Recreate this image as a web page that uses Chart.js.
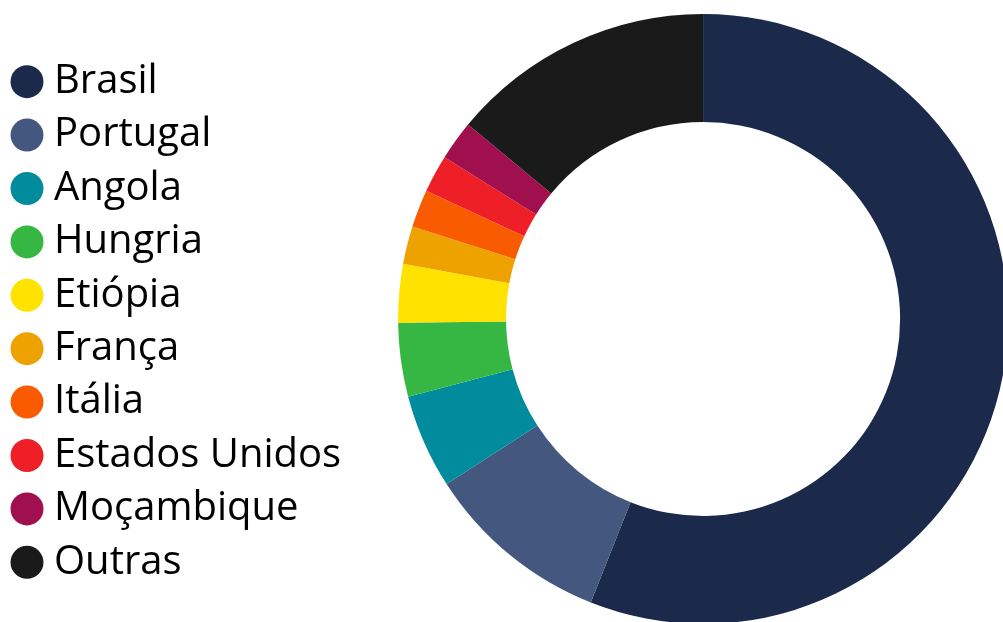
<!DOCTYPE html>
<html>
<head>
<meta charset="utf-8">
<script src="https://cdn.jsdelivr.net/npm/chart.js@4/dist/chart.umd.min.js"></script>
<style>
  html, body { margin: 0; padding: 0; background: #fff; overflow: hidden; }
  #wrap { position: absolute; left: 0; top: 0; }
</style>
</head>
<body>
<div id="wrap"><canvas id="c" width="1055" height="624"></canvas></div>
<script>
const categories = ["Brasil", "Portugal", "Angola", "Hungria", "Etiópia", "França", "Itália", "Estados Unidos", "Moçambique", "Outras"];
const shares = [56.0, 9.9, 5.0, 3.9, 3.1, 2.0, 2.0, 2.0, 2.1, 14.0];
const colors = ["#1b294b", "#44577e", "#008c9c", "#36b744", "#ffe200", "#eda200", "#f95b00", "#ee1f27", "#a00f4e", "#1a1a1a"];

new Chart(document.getElementById('c'), {
  type: 'doughnut',
  data: {
    labels: categories,
    datasets: [{
      data: shares,
      backgroundColor: colors,
      borderWidth: 0
    }]
  },
  options: {
    responsive: false,
    animation: false,
    cutout: '64.6%',
    layout: { padding: { left: 6.6, top: 14, right: 0, bottom: 0 } },
    plugins: {
      tooltip: { enabled: false },
      legend: {
        position: 'left',
        title: { display: true, text: ' ', font: { size: 5 }, padding: 0 },
        labels: {
          usePointStyle: true,
          pointStyle: 'circle',
          boxWidth: 14,
          boxHeight: 23.3,
          padding: 13.4,
          color: '#000',
          font: { family: '"Open Sans", sans-serif', size: 40 }
        }
      }
    }
  }
});
</script>
</body>
</html>
